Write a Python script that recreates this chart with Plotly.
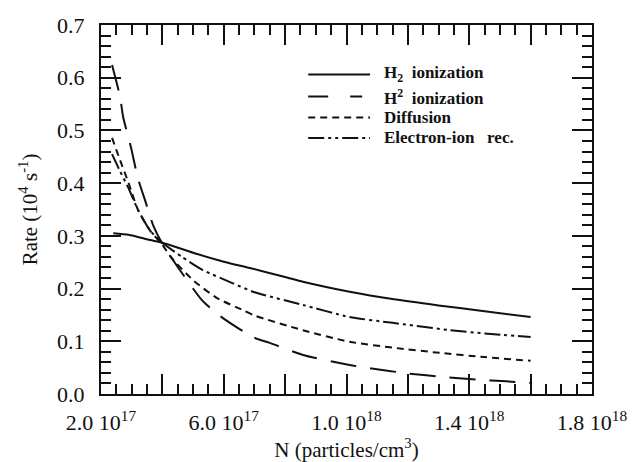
import plotly.graph_objects as go

# ---- data (N in particles/cm^3, rate in 10^4 s^-1) ----
n_h2 = [2.4e17, 2.9e17, 3.6e17, 4.0e17, 5.0e17, 6.0e17, 6.85e17, 8.0e17, 8.58e17,
        1.01e18, 1.15e18, 1.30e18, 1.45e18, 1.60e18]
r_h2 = [0.305, 0.302, 0.292, 0.287, 0.268, 0.251, 0.239, 0.222, 0.213,
        0.194, 0.180, 0.168, 0.157, 0.146]

n_h = [2.36e17, 2.62e17, 2.72e17, 2.98e17, 3.2e17, 3.45e17, 3.7e17, 4.0e17, 4.5e17,
       5.29e17, 5.88e17, 6.95e17, 7.5e17, 8.58e17, 1.01e18, 1.076e18, 1.2e18,
       1.304e18, 1.43e18, 1.52e18, 1.60e18]
r_h = [0.624, 0.564, 0.526, 0.467, 0.41, 0.365, 0.32, 0.285, 0.241,
       0.178, 0.148, 0.108, 0.097, 0.074, 0.055, 0.049, 0.039,
       0.033, 0.027, 0.024, 0.021]

n_diff = [2.36e17, 2.6e17, 2.9e17, 3.2e17, 3.6e17, 4.0e17, 4.3e17, 5.0e17, 5.78e17,
          6.63e17, 7.0e17, 8.58e17, 1.01e18, 1.15e18, 1.304e18, 1.45e18, 1.60e18]
r_diff = [0.486, 0.447, 0.40, 0.35, 0.31, 0.283, 0.258, 0.216, 0.182,
          0.159, 0.149, 0.121, 0.099, 0.088, 0.078, 0.070, 0.063]

n_ei = [2.36e17, 2.6e17, 2.9e17, 3.2e17, 3.6e17, 4.0e17, 4.64e17, 5.32e17, 6.3e17,
        7.0e17, 8.58e17, 1.01e18, 1.15e18, 1.337e18, 1.45e18, 1.60e18]
r_ei = [0.455, 0.425, 0.39, 0.35, 0.31, 0.287, 0.260, 0.235, 0.21,
        0.193, 0.169, 0.146, 0.135, 0.121, 0.115, 0.108]

x_tickvals = [2e17, 4e17, 6e17, 8e17, 1.0e18, 1.2e18, 1.4e18, 1.6e18, 1.8e18]
x_ticktext = ["2.0 10<sup>17</sup>", "", "6.0 10<sup>17</sup>", "", "1.0 10<sup>18</sup>",
              "", "1.4 10<sup>18</sup>", "", "1.8 10<sup>18</sup>"]

names = ["H<sub>2</sub>  ionization", "H<sup>2</sup>  ionization", "Diffusion",
         "Electron-ion   rec."]
dashes = ["solid", "26px,14px", "7px,5px", "16px,4px,3px,4px,3px,4px"]
legend_dashes = ["solid", "20px,22px,12px", "7px,5px", "16px,4px,3px,4px,3px,4px"]

ink = "#111111"
font_family = "Liberation Serif, Times New Roman, serif"

fig = go.Figure()
series = [(n_h2, r_h2), (n_h, r_h), (n_diff, r_diff), (n_ei, r_ei)]
for (xs, ys), nm, dash in zip(series, names, dashes):
    fig.add_trace(go.Scatter(x=xs, y=ys, mode="lines", name=nm, showlegend=False,
                             line=dict(color=ink, width=2, dash=dash, shape="spline",
                                       smoothing=0.6)))

# manual legend (line samples + labels) in paper coordinates
leg_rows_y = [0.866, 0.806, 0.749, 0.694]
for nm, dash, yy in zip(names, legend_dashes, leg_rows_y):
    fig.add_shape(type="line", xref="paper", yref="paper",
                  x0=0.422, x1=0.548, y0=yy, y1=yy,
                  line=dict(color=ink, width=2, dash=dash))
    fig.add_annotation(xref="paper", yref="paper", x=0.572, y=yy,
                       xanchor="left", yanchor="middle", showarrow=False,
                       text="<b>" + nm + "</b>",
                       font=dict(family=font_family, size=17, color=ink))

axis_common = dict(
    showgrid=False, zeroline=False, showline=True, linecolor=ink, linewidth=2,
    mirror="ticks", ticks="inside", ticklen=20, tickwidth=2, tickcolor=ink,
    tickfont=dict(family=font_family, size=22, color=ink), automargin=False,
)

fig.update_xaxes(
    **axis_common,
    range=[2e17, 1.8e18], tickmode="array", tickvals=x_tickvals, ticktext=x_ticktext,
    ticklabelstandoff=8,
    minor=dict(tick0=2e17, dtick=5e16, ticklen=10, tickwidth=2, tickcolor=ink, ticks="inside"),
    title=dict(text="N (particles/cm<sup>3</sup>)",
               font=dict(family=font_family, size=21, color=ink), standoff=4),
)
fig.update_yaxes(
    **axis_common,
    range=[0, 0.7], dtick=0.1, tick0=0, tickformat=".1f", ticklabelstandoff=10,
    minor=dict(dtick=0.02, ticklen=10, tickwidth=2, tickcolor=ink, ticks="inside"),
    title=dict(text="Rate (10<sup>4</sup> s<sup>-1</sup>)",
               font=dict(family=font_family, size=21, color=ink), standoff=14),
)

fig.update_layout(
    width=640, height=462,
    margin=dict(l=101, r=48, t=25, b=68),
    paper_bgcolor="white", plot_bgcolor="white",
    showlegend=False,
)

fig.write_html("out.html")
